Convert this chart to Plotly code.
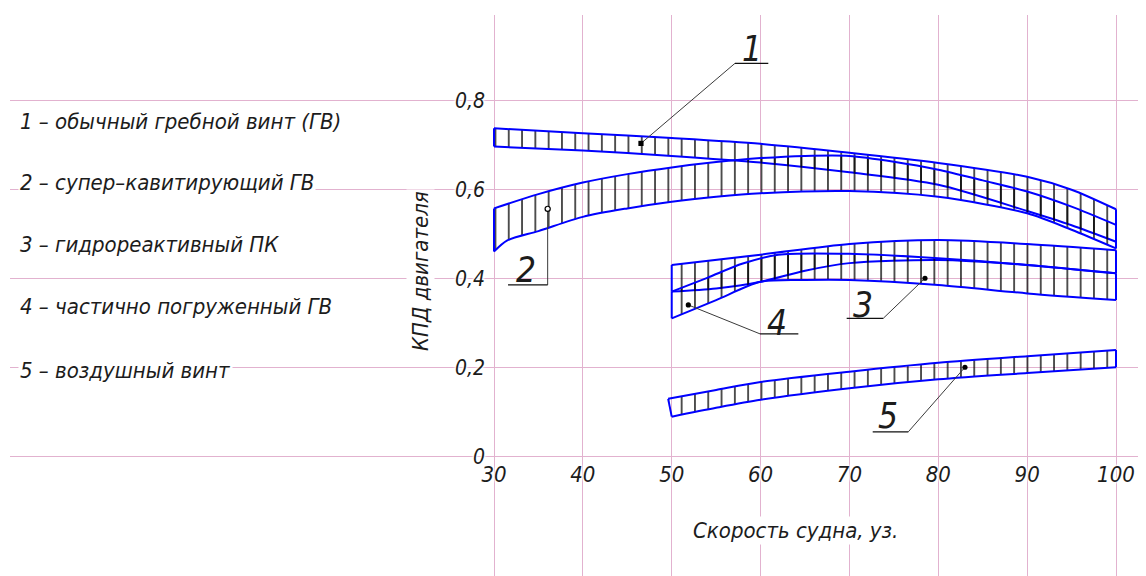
import plotly.graph_objects as go

# ---------------- data ----------------
speed_1 = [30, 40, 50, 60, 70, 80, 90, 95, 100]
eff_1_upper = [0.738, 0.727, 0.716, 0.703, 0.683, 0.660, 0.629, 0.600, 0.556]
eff_1_lower = [0.697, 0.688, 0.676, 0.661, 0.639, 0.611, 0.552, 0.520, 0.483]

speed_2_upper = [30, 35, 40, 45, 50, 55, 60, 65, 70, 75, 80, 85, 90, 95, 100]
eff_2_upper = [0.558, 0.590, 0.616, 0.635, 0.650, 0.662, 0.671, 0.676, 0.676,
               0.663, 0.645, 0.621, 0.596, 0.562, 0.521]
speed_2_lower = [30, 31.5, 35, 40, 45, 50, 55, 60, 70, 80, 90, 95, 100]
eff_2_lower = [0.461, 0.486, 0.507, 0.539, 0.558, 0.573, 0.584, 0.592, 0.597,
               0.584, 0.547, 0.510, 0.468]

speed_3 = [50, 60, 70, 80, 90, 100]
eff_3_upper = [0.431, 0.454, 0.478, 0.487, 0.478, 0.464]
speed_3_lower = [50, 55, 60, 65, 70, 80, 90, 100]
eff_3_lower = [0.371, 0.378, 0.393, 0.418, 0.435, 0.442, 0.431, 0.412]

speed_4_upper = [50, 54, 58, 62, 70, 80, 90, 100]
eff_4_upper = [0.371, 0.402, 0.434, 0.454, 0.456, 0.446, 0.431, 0.412]
speed_4_lower = [50, 55, 60, 65, 70, 80, 90, 100]
eff_4_lower = [0.311, 0.352, 0.393, 0.397, 0.397, 0.386, 0.367, 0.352]

speed_5_upper = [49.6, 55, 60, 70, 80, 90, 100]
eff_5_upper = [0.130, 0.150, 0.168, 0.191, 0.211, 0.226, 0.240]
speed_5_lower = [50, 55, 60, 70, 80, 90, 100]
eff_5_lower = [0.090, 0.110, 0.128, 0.154, 0.174, 0.188, 0.201]

x_ticks = [30, 40, 50, 60, 70, 80, 90, 100]
y_ticks = [0, 0.2, 0.4, 0.6, 0.8]
y_tick_text = ["0", "0,2", "0,4", "0,6", "0,8"]

legend_items = [
    "1 – обычный гребной винт (ГВ)",
    "2 – супер–кавитирующий ГВ",
    "3 – гидрореактивный ПК",
    "4 – частично погруженный ГВ",
    "5 – воздушный винт",
]
x_title = "Скорость судна, уз."
y_title = "КПД двигателя"

bands = [
    (speed_1, eff_1_upper, speed_1, eff_1_lower),
    (speed_2_upper, eff_2_upper, speed_2_lower, eff_2_lower),
    (speed_3, eff_3_upper, speed_3_lower, eff_3_lower),
    (speed_4_upper, eff_4_upper, speed_4_lower, eff_4_lower),
    (speed_5_upper, eff_5_upper, speed_5_lower, eff_5_lower),
]

# ---------------- layout / styling ----------------
# the page body adds an 8 px margin, so the figure is drawn 8 px smaller
BODY = 8
W, H = 1146 - BODY, 576 - BODY
ML, MR, MT, MB = 2, 0, 7, 0          # plot area = page x 10..1146, page y 15..576
X_RANGE = [-24.47, 103.376]
Y_RANGE = [-0.2681, 0.9926]

BLUE = "#0000FF"
GRID = "#E2B2CF"
INK = "#1c1c1c"
FONT = "DejaVu Sans Condensed, Liberation Sans Narrow, Arial Narrow, sans-serif"
HALO = "0 0 3px #fff, 0 0 3px #fff, 0 0 3px #fff, 0 0 3px #fff"


def paper_x(page_px):
    return (page_px - BODY - ML) / (W - ML - MR)


def paper_y(page_py):
    return (H - MB - (page_py - BODY)) / (H - MT - MB)


# callouts: (number, dot, elbow, underline end, text centre, dot kind) in data units
callouts = [
    ("1", (46.54, 0.704), (57.12, 0.884), (60.87, 0.884), (59.0, 0.916), "rect"),
    ("2", (36.04, 0.557), (36.04, 0.386), (31.58, 0.386), (33.6, 0.420), "open"),
    ("3", (78.50, 0.401), (73.81, 0.311), (69.69, 0.311), (71.5, 0.341), "dot"),
    ("4", (51.87, 0.341), (59.94, 0.276), (64.25, 0.276), (61.9, 0.300), "dot"),
    ("5", (83.00, 0.201), (76.63, 0.056), (72.62, 0.056), (74.3, 0.092), "dot"),
]

fig = go.Figure()

hatch = dict(shape="|", fgcolor="#000000", bgcolor="rgba(0,0,0,0)",
             size=13.3, solidity=0.1, fillmode="replace")

for xu, yu, xl, yl in bands:
    fig.add_trace(go.Scatter(x=xl, y=yl, mode="lines",
                             line=dict(color=BLUE, width=2, shape="spline", smoothing=0.8),
                             hoverinfo="skip", showlegend=False))
    fig.add_trace(go.Scatter(x=xu, y=yu, mode="lines", fill="tonexty",
                             fillcolor="rgba(0,0,0,0)", fillpattern=hatch,
                             line=dict(color=BLUE, width=2, shape="spline", smoothing=0.8),
                             hoverinfo="skip", showlegend=False))
    fig.add_trace(go.Scatter(x=[xl[0], xu[0], None, xl[-1], xu[-1]],
                             y=[yl[0], yu[0], None, yl[-1], yu[-1]],
                             mode="lines", line=dict(color=BLUE, width=2),
                             hoverinfo="skip", showlegend=False))

shapes = []
annotations = []
for num, dot, elbow, end, tpos, kind in callouts:
    shapes.append(dict(type="line", xref="x", yref="y", x0=dot[0], y0=dot[1],
                       x1=elbow[0], y1=elbow[1], line=dict(color="#3a3a3a", width=1),
                       layer="above"))
    shapes.append(dict(type="line", xref="x", yref="y", x0=elbow[0], y0=elbow[1],
                       x1=end[0], y1=end[1], line=dict(color="#111", width=1.3),
                       layer="above"))
    r = 2.6
    common = dict(xref="x", yref="y", xsizemode="pixel", ysizemode="pixel",
                  xanchor=dot[0], yanchor=dot[1], x0=-r, x1=r, y0=-r, y1=r,
                  layer="above")
    if kind == "rect":
        shapes.append(dict(type="rect", fillcolor="#000", line=dict(width=0), **common))
    elif kind == "open":
        shapes.append(dict(type="circle", fillcolor="#fff",
                           line=dict(color="#000", width=1.2), **common))
    else:
        shapes.append(dict(type="circle", fillcolor="#000", line=dict(width=0), **common))
    annotations.append(dict(xref="x", yref="y", x=tpos[0], y=tpos[1], text=num,
                            showarrow=False, xanchor="center", yanchor="middle",
                            font=dict(family=FONT, size=35, color=INK, style="italic")))

legend_rows_px = [121, 182.5, 244, 306.5, 370]
for txt, py in zip(legend_items, legend_rows_px):
    annotations.append(dict(xref="paper", yref="paper", x=paper_x(18), y=paper_y(py),
                            text=txt, showarrow=False, xanchor="left", yanchor="middle",
                            bgcolor="#fff", borderpad=1,
                            font=dict(family=FONT, size=22, color=INK, style="italic")))

annotations.append(dict(xref="paper", yref="paper", x=paper_x(795), y=paper_y(530),
                        text=x_title, showarrow=False, xanchor="center", yanchor="middle",
                        bgcolor="#fff",
                        font=dict(family=FONT, size=22, color=INK, style="italic")))
annotations.append(dict(xref="paper", yref="paper", x=paper_x(420), y=paper_y(271),
                        text=y_title, textangle=-90, showarrow=False,
                        xanchor="center", yanchor="middle", bgcolor="#fff",
                        font=dict(family=FONT, size=22, color=INK, style="italic")))

yaxis_pos = (x_ticks[0] - X_RANGE[0]) / (X_RANGE[1] - X_RANGE[0])
xaxis_pos = (y_ticks[0] - Y_RANGE[0]) / (Y_RANGE[1] - Y_RANGE[0])

fig.update_layout(
    width=W, height=H,
    margin=dict(l=ML, r=MR, t=MT, b=MB, pad=0),
    paper_bgcolor="#fff", plot_bgcolor="#fff",
    showlegend=False,
    shapes=shapes,
    annotations=annotations,
    xaxis=dict(range=X_RANGE, tickvals=x_ticks, ticktext=[str(v) for v in x_ticks],
               showgrid=True, gridcolor=GRID, gridwidth=1, zeroline=False,
               showline=False, ticks="", anchor="free", position=xaxis_pos,
               ticklabelstandoff=2, automargin=False, fixedrange=True,
               tickfont=dict(family=FONT, size=22, color=INK, style="italic", shadow=HALO)),
    yaxis=dict(range=Y_RANGE, tickvals=y_ticks, ticktext=y_tick_text,
               showgrid=True, gridcolor=GRID, gridwidth=1, zeroline=False,
               showline=False, ticks="", anchor="free", position=yaxis_pos,
               ticklabelstandoff=9, automargin=False, fixedrange=True,
               tickfont=dict(family=FONT, size=21, color=INK, style="italic", shadow=HALO)),
)

fig.write_html("out.html")
